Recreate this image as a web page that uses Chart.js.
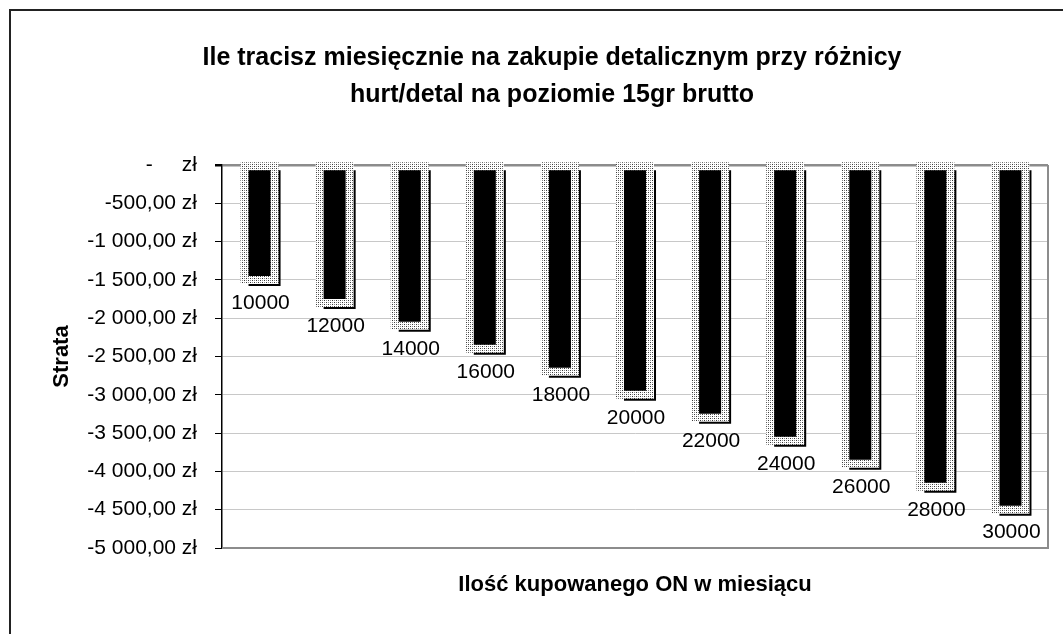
<!DOCTYPE html>
<html>
<head>
<meta charset="utf-8">
<script src="https://cdn.jsdelivr.net/npm/chart.js@4/dist/chart.umd.min.js"></script>
<style>
  html, body { margin: 0; padding: 0; background: #fff; overflow: hidden; }
  #wrap { position: relative; width: 1063px; height: 634px; }
  #frame { position: absolute; left: 9px; top: 9px; width: 1100px; height: 700px; border: 2px solid #222; }
  canvas { position: absolute; left: 0; top: 0; }
</style>
</head>
<body>
<div id="wrap">
  <div id="frame"></div>
  <canvas id="chart" width="1063" height="634"></canvas>
</div>
<script>
// data
const categories = ['10000', '12000', '14000', '16000', '18000', '20000', '22000', '24000', '26000', '28000', '30000'];
const losses = [-1500, -1800, -2100, -2400, -2700, -3000, -3300, -3600, -3900, -4200, -4500];
const yMin = -5000;
const yMax = 0;
const yStep = 500;

const FONT = "'Liberation Sans', Arial, sans-serif";

function stipple() {
  const c = document.createElement('canvas');
  c.width = 4; c.height = 4;
  const g = c.getContext('2d');
  g.fillStyle = '#fff'; g.fillRect(0, 0, 4, 4);
  g.fillStyle = '#3a3a3a'; g.fillRect(0, 0, 1, 1); g.fillRect(2, 2, 1, 1);
  g.fillStyle = '#8a8a8a'; g.fillRect(2, 0, 1, 1); g.fillRect(0, 2, 1, 1);
  return g.createPattern(c, 'repeat');
}

function formatZl(v) {
  if (v === 0) return '-     zł';
  const abs = Math.abs(v).toFixed(2).split('.');
  const intPart = abs[0].replace(/\B(?=(\d{3})+(?!\d))/g, ' ');
  return (v < 0 ? '-' : '') + intPart + ',' + abs[1] + ' zł';
}

// shifts a dataset by a few pixels (the shadow behind the columns)
const shiftPlugin = {
  id: 'shift',
  beforeDatasetDraw(chart, args) {
    const ds = chart.data.datasets[args.index];
    if (ds.shift) {
      chart.ctx.save();
      chart.ctx.translate(ds.shift, ds.shift);
    }
  },
  afterDatasetDraw(chart, args) {
    if (chart.data.datasets[args.index].shift) chart.ctx.restore();
  }
};

// right and bottom edges of the plot area
const framePlugin = {
  id: 'plotFrame',
  beforeDatasetsDraw(chart) {
    const { ctx, chartArea: a } = chart;
    ctx.save();
    ctx.strokeStyle = '#8c8c8c';
    ctx.lineWidth = 2;
    ctx.beginPath();
    ctx.moveTo(a.right, a.top);
    ctx.lineTo(a.right, a.bottom);
    ctx.lineTo(a.left, a.bottom);
    ctx.stroke();
    ctx.restore();
  }
};

// category labels under each column
const labelPlugin = {
  id: 'catLabels',
  afterDatasetsDraw(chart) {
    const { ctx } = chart;
    const meta = chart.getDatasetMeta(0);
    ctx.save();
    ctx.font = '21px ' + FONT;
    ctx.fillStyle = '#000';
    ctx.textAlign = 'center';
    ctx.textBaseline = 'middle';
    meta.data.forEach((el, i) => {
      ctx.fillText(chart.data.labels[i], el.x + 1, el.y + 23);
    });
    ctx.restore();
  }
};

const pattern = stipple();

new Chart(document.getElementById('chart'), {
  type: 'bar',
  data: {
    labels: categories,
    datasets: [
      {
        label: 'front',
        data: losses,
        backgroundColor: '#000',
        barPercentage: 0.4,
        categoryPercentage: 1,
        inflateAmount: -4,
        grouped: false,
        clip: false
      },
      {
        label: 'stipple',
        data: losses,
        backgroundColor: pattern,
        barPercentage: 0.4,
        categoryPercentage: 1,
        inflateAmount: 4,
        grouped: false,
        clip: false
      },
      {
        label: 'shadow',
        data: losses,
        backgroundColor: '#000',
        barPercentage: 0.4,
        categoryPercentage: 1,
        inflateAmount: 1,
        grouped: false,
        clip: false,
        shift: 5
      }
    ]
  },
  options: {
    responsive: false,
    animation: false,
    devicePixelRatio: 1,
    layout: { padding: { left: 56, right: 15, top: 0, bottom: 0 } },
    plugins: {
      legend: { display: false },
      tooltip: { enabled: false },
      title: {
        display: true,
        text: ['Ile tracisz miesięcznie na zakupie detalicznym przy różnicy', 'hurt/detal na poziomie 15gr brutto'],
        color: '#000',
        font: { family: FONT, size: 25, weight: 'bold', lineHeight: 1.48 },
        padding: { top: 39.5, bottom: 51.5 }
      }
    },
    scales: {
      x: {
        ticks: { display: false },
        grid: { display: false, drawTicks: false },
        border: { display: true, color: '#8c8c8c', width: 2 },
        title: {
          display: true,
          text: 'Ilość kupowanego ON w miesiącu',
          color: '#000',
          font: { family: FONT, size: 22, weight: 'bold' },
          padding: { top: 0, bottom: 36 }
        },
        afterFit(s) { s.height = 86; }
      },
      y: {
        min: yMin,
        max: yMax,
        ticks: {
          stepSize: yStep,
          color: '#000',
          font: { family: FONT, size: 21 },
          padding: 18,
          callback: (v) => formatZl(v)
        },
        grid: {
          color: (c) => (c.tick && c.tick.value === 0 ? '#8c8c8c' : '#c8c8c8'),
          lineWidth: (c) => (c.tick && c.tick.value === 0 ? 2.5 : 1),
          tickColor: '#000',
          tickLength: 7
        },
        border: { color: '#000', width: 1.5 },
        title: {
          display: true,
          text: 'Strata',
          color: '#000',
          font: { family: FONT, size: 22, weight: 'bold' },
          padding: { top: -7, bottom: 0 }
        },
        afterFit(s) { s.width = 166; }
      }
    }
  },
  plugins: [shiftPlugin, framePlugin, labelPlugin]
});
</script>
</body>
</html>
